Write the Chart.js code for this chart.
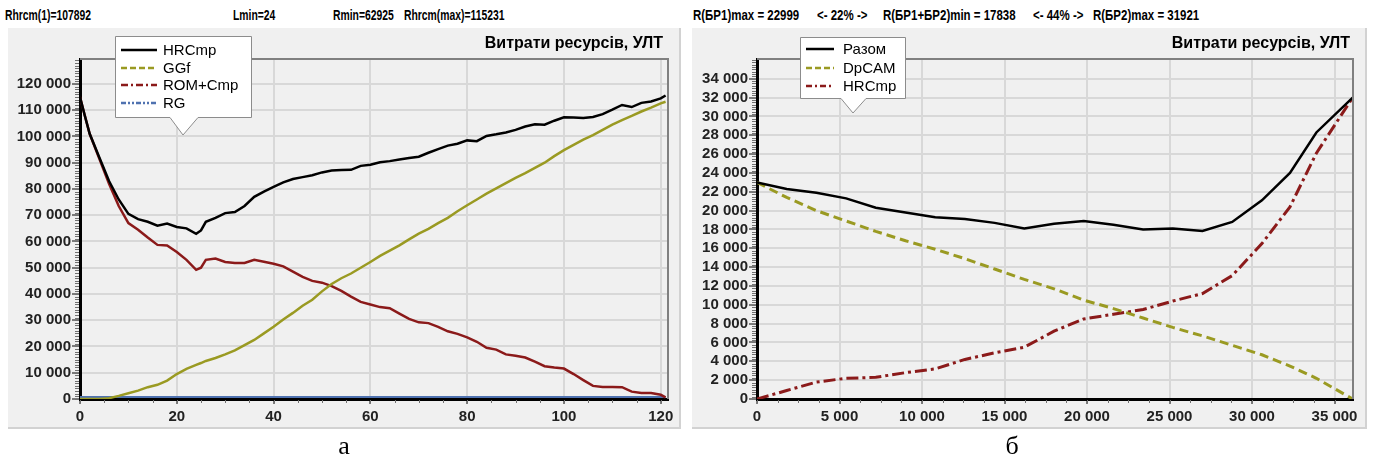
<!DOCTYPE html>
<html lang="uk">
<head>
<meta charset="utf-8">
<title>Витрати ресурсів, УЛТ</title>
<script src="https://cdn.jsdelivr.net/npm/chart.js@4.4.1/dist/chart.umd.min.js"></script>
<style>
  html, body { margin: 0; padding: 0; background: #fff; }
  body { position: relative; width: 1383px; height: 461px; overflow: hidden; font-family: "Liberation Sans", Arial, sans-serif; color: #000; }
  .hdr { position: absolute; top: 7px; font-size: 14px; font-weight: bold; line-height: 16px; white-space: nowrap; transform: scaleX(0.74); transform-origin: 0 50%; }
  .hdr.r { transform: scaleX(0.82); }
  .panel { position: absolute; top: 28px; height: 399px; background: #f0f0f0; border-right: 2px solid #d2d2d2; border-bottom: 2px solid #d2d2d2; }
  .panel canvas { position: absolute; left: 0; top: 0; }
  .title { position: absolute; top: 35px; font-size: 16px; font-weight: bold; line-height: 16px; white-space: nowrap; }
  .lg { position: absolute; font-size: 15px; line-height: 18px; white-space: nowrap; }
  .sw { position: absolute; }
  .cap { position: absolute; top: 433px; width: 40px; text-align: center; font-family: "Liberation Serif", "Times New Roman", serif; font-size: 26px; line-height: 26px; }
  #callouts { position: absolute; left: 0; top: 0; }
</style>
</head>
<body>

<span class="hdr" style="left:5px">Rhrcm(1)=107892</span>
<span class="hdr" style="left:233px">Lmin=24</span>
<span class="hdr" style="left:333px">Rmin=62925</span>
<span class="hdr" style="left:404px">Rhrcm(max)=115231</span>
<span class="hdr r" style="left:693px">R(БР1)max = 22999</span>
<span class="hdr r" style="left:817px">&lt;- 22% -&gt;</span>
<span class="hdr r" style="left:883px">R(БР1+БР2)min = 17838</span>
<span class="hdr r" style="left:1033px">&lt;- 44% -&gt;</span>
<span class="hdr r" style="left:1093px">R(БР2)max = 31921</span>

<div class="panel" style="left:8px;width:671px"><canvas id="chartA" width="671" height="399"></canvas></div>
<div class="panel" style="left:692px;width:673px"><canvas id="chartB" width="673" height="399"></canvas></div>

<div class="title" style="right:720px">Витрати ресурсів, УЛТ</div>
<div class="title" style="right:33px">Витрати ресурсів, УЛТ</div>

<svg id="callouts" width="1383" height="461">
  <path d="M115.5,36.5 H251.5 V117.5 H198 L183,135 L170,117.5 H115.5 Z" fill="#fff" stroke="#8c8c8c" stroke-width="1"/>
  <path d="M800.5,37.5 H905.5 V98.5 H866 L853,113 L841,98.5 H800.5 Z" fill="#fff" stroke="#8c8c8c" stroke-width="1"/>
</svg>
<div id="legends"></div>

<div class="cap" style="left:324px">а</div>
<div class="cap" style="left:992px">б</div>

<script>
// ---- chart а: resources vs L ----
const xL = [0, 1, 2, 4, 6, 8, 10, 12, 14, 16, 18, 20, 22, 24, 25, 26, 28, 30, 32, 34, 36, 38, 40, 42, 44, 46, 48, 50,
  52, 54, 56, 58, 60, 62, 64, 66, 68, 70, 72, 74, 76, 78, 80, 82, 84, 86, 88, 90, 92, 94, 96, 98, 100,
  102, 104, 106, 108, 110, 112, 114, 116, 118, 120, 121];
const hrcmpA = [115000, 107900, 101000, 92000, 83000, 76000, 70500, 68500, 67500, 66000, 66800, 65500, 65000, 62900, 64200,
  67500, 69000, 70800, 71200, 73500, 77000, 79000, 80800, 82500, 83800, 84500, 85200, 86300, 87000, 87200, 87300,
  88800, 89200, 90200, 90600, 91200, 91800, 92300, 93800, 95200, 96500, 97200, 98500, 98200, 100200, 100800, 101500,
  102500, 103800, 104600, 104500, 106000, 107300, 107200, 107000, 107400, 108500, 110200, 112000, 111200, 112800,
  113300, 114500, 115600];
const ggf = [0, 0, 0, 0, 300, 1200, 2200, 3200, 4500, 5400, 7000, 9500, 11500, 13000, 13700, 14500, 15600, 17000, 18500,
  20500, 22500, 25000, 27500, 30300, 32800, 35500, 37800, 41000, 43800, 46000, 47800, 50000, 52200, 54500, 56500,
  58500, 60800, 63000, 64800, 67000, 69000, 71500, 73800, 76000, 78200, 80200, 82200, 84200, 86000, 88000, 90000,
  92500, 94800, 96800, 98800, 100500, 102500, 104500, 106200, 107800, 109500, 111000, 112600, 113200];
const romCmp = [115000, 107900, 101000, 91500, 82000, 73500, 67000, 64500, 61500, 58700, 58500, 56000, 53000, 49200, 50000,
  53000, 53500, 52200, 51800, 51800, 53000, 52300, 51500, 50500, 48500, 46500, 45000, 44300, 43000, 41200, 39000,
  37000, 36000, 35000, 34600, 32500, 30500, 29200, 28900, 27500, 25800, 24800, 23500, 21800, 19500, 18800, 17000,
  16500, 15800, 14200, 12500, 12000, 11600, 9500, 7200, 5000, 4600, 4600, 4500, 2800, 2300, 2300, 1600, 600];
const rgX = [0, 121];
const rg = [800, 800];
const xTicksA = [0, 20, 40, 60, 80, 100, 120];
const yTicksA = [0, 10000, 20000, 30000, 40000, 50000, 60000, 70000, 80000, 90000, 100000, 110000, 120000];

// ---- chart б: resources vs R ----
const xR = [0, 1800, 3600, 5400, 7200, 9000, 10800, 12600, 14400, 16200, 18000, 19800, 21600, 23400, 25200, 27000,
  28800, 30600, 32300, 33900, 36100];
const razom = [23000, 22300, 21900, 21300, 20300, 19800, 19300, 19100, 18700, 18100, 18600, 18900, 18500, 18000, 18100,
  17850, 18800, 21100, 24000, 28300, 32000];
const dpcam = [23000, 21400, 20000, 18900, 17800, 16800, 15900, 14900, 13800, 12700, 11700, 10500, 9600, 8600, 7600,
  6700, 5700, 4700, 3500, 2200, 0];
const hrcmpB = [0, 900, 1800, 2200, 2300, 2800, 3200, 4200, 4900, 5500, 7200, 8500, 9000, 9500, 10400, 11200, 13100,
  16500, 20400, 26100, 32000];
const xTicksB = [0, 5000, 10000, 15000, 20000, 25000, 30000, 35000];
const yTicksB = [0, 2000, 4000, 6000, 8000, 10000, 12000, 14000, 16000, 18000, 20000, 22000, 24000, 26000, 28000,
  30000, 32000, 34000];

const fmt = v => String(v).replace(/\B(?=(\d{3})+(?!\d))/g, ' ');
const pts = (xs, ys) => xs.map((x, i) => ({ x, y: ys[i] }));
const tickFont = { family: '"Liberation Sans", Arial, sans-serif', size: 15, weight: 'bold' };

// gray frame on top/right + dense minor ticks on both axes
const minorAxis = {
  id: 'minorAxis',
  afterDraw(chart, args, opts) {
    const { ctx, chartArea: a, scales: { x, y } } = chart;
    ctx.save();
    ctx.strokeStyle = '#808080';
    ctx.lineWidth = 2;
    ctx.beginPath();
    ctx.moveTo(a.left, a.top);
    ctx.lineTo(a.right, a.top);
    ctx.lineTo(a.right, a.bottom);
    ctx.stroke();

    ctx.strokeStyle = '#707070';
    ctx.lineWidth = 1;
    ctx.beginPath();
    for (let v = y.min; v <= y.max; v += opts.y) {
      const p = Math.round(y.getPixelForValue(v)) + 0.5;
      ctx.moveTo(a.left - 5, p);
      ctx.lineTo(a.left - 1, p);
    }
    for (let v = x.min; v <= x.max; v += opts.x) {
      const p = Math.round(x.getPixelForValue(v)) + 0.5;
      ctx.moveTo(p, a.bottom + 1);
      ctx.lineTo(p, a.bottom + 4);
    }
    ctx.stroke();
    ctx.restore();
  }
};

function makeChart(id, datasets, ax) {
  return new Chart(document.getElementById(id), {
    type: 'line',
    data: { datasets },
    options: {
      responsive: false,
      animation: false,
      events: [],
      layout: { padding: { top: 31, right: ax.padRight, left: 0, bottom: 0 } },
      elements: { point: { radius: 0 }, line: { tension: 0, borderWidth: 2.5 } },
      plugins: {
        legend: { display: false },
        tooltip: { enabled: false },
        minorAxis: { x: ax.xMinor, y: ax.yMinor }
      },
      scales: {
        x: {
          type: 'linear', min: 0, max: ax.xMax,
          afterBuildTicks: s => { s.ticks = ax.xTicks.map(value => ({ value })); },
          afterFit: s => { s.height = 28; },
          grid: { color: '#d8d8d8', lineWidth: 2, tickLength: 5, tickColor: '#555', tickWidth: 1.5 },
          border: { color: '#000', width: 3 },
          ticks: { padding: 4, maxRotation: 0, autoSkip: false, color: '#222', font: tickFont, callback: v => fmt(v) }
        },
        y: {
          type: 'linear', min: 0, max: ax.yMax,
          afterBuildTicks: s => { s.ticks = ax.yTicks.map(value => ({ value })); },
          afterFit: s => { s.width = ax.yWidth; },
          grid: { color: '#d8d8d8', lineWidth: 2, tickLength: 8, tickColor: '#555', tickWidth: 1.5 },
          border: { color: '#000', width: 3 },
          ticks: { padding: 1, autoSkip: false, color: '#222', font: tickFont, callback: v => fmt(v) }
        }
      }
    },
    plugins: [minorAxis]
  });
}

const chartA = makeChart('chartA', [
  { label: 'HRCmp', data: pts(xL, hrcmpA), borderColor: '#000000', legendDash: [] },
  { label: 'GGf', data: pts(xL, ggf), borderColor: '#9a9a22', legendDash: [6, 3] },
  { label: 'ROM+Cmp', data: pts(xL, romCmp), borderColor: '#8b1a1a', legendDash: [7, 3, 2, 3] },
  { label: 'RG', data: pts(rgX, rg), borderColor: '#4f72b0', borderWidth: 2, legendDash: [5, 2, 2, 2, 2, 2] }
], { xMax: 121.5, yMax: 129500, xTicks: xTicksA, yTicks: yTicksA, yWidth: 72, padRight: 11, xMinor: 5, yMinor: 1000 });

const chartB = makeChart('chartB', [
  { label: 'Разом', data: pts(xR, razom), borderColor: '#000000', legendDash: [] },
  { label: 'DpCAM', data: pts(xR, dpcam), borderColor: '#9a9a22', borderWidth: 3, borderDash: [9, 5], legendDash: [6, 3] },
  { label: 'HRCmp', data: pts(xR, hrcmpB), borderColor: '#8b1a1a', borderWidth: 3, borderDash: [12, 4, 3, 4], legendDash: [6, 3, 2, 3] }
], { xMax: 36120, yMax: 36100, xTicks: xTicksB, yTicks: yTicksB, yWidth: 65, padRight: 12, xMinor: 1250, yMinor: 250 });

// HTML legends inside the callout boxes
function buildLegend(chart, o) {
  const host = document.getElementById('legends');
  chart.data.datasets.forEach((ds, i) => {
    const y = o.rowTop + i * o.rowGap;
    host.insertAdjacentHTML('beforeend', `
      <svg class="sw" style="left:${o.lineX}px;top:${y - 5}px" width="${o.lineW}" height="10">
        <line x1="0" y1="5" x2="${o.lineW}" y2="5" stroke="${ds.borderColor}" stroke-width="2.5"
          stroke-dasharray="${ds.legendDash.join(' ')}"/>
      </svg>
      <span class="lg" style="left:${o.textX}px;top:${y - 9}px">${ds.label}</span>`);
  });
}

buildLegend(chartA, { rowTop: 50, rowGap: 17.7, lineX: 121, lineW: 36, textX: 163 });
buildLegend(chartB, { rowTop: 49, rowGap: 18.5, lineX: 806, lineW: 28, textX: 843 });
</script>
</body>
</html>
